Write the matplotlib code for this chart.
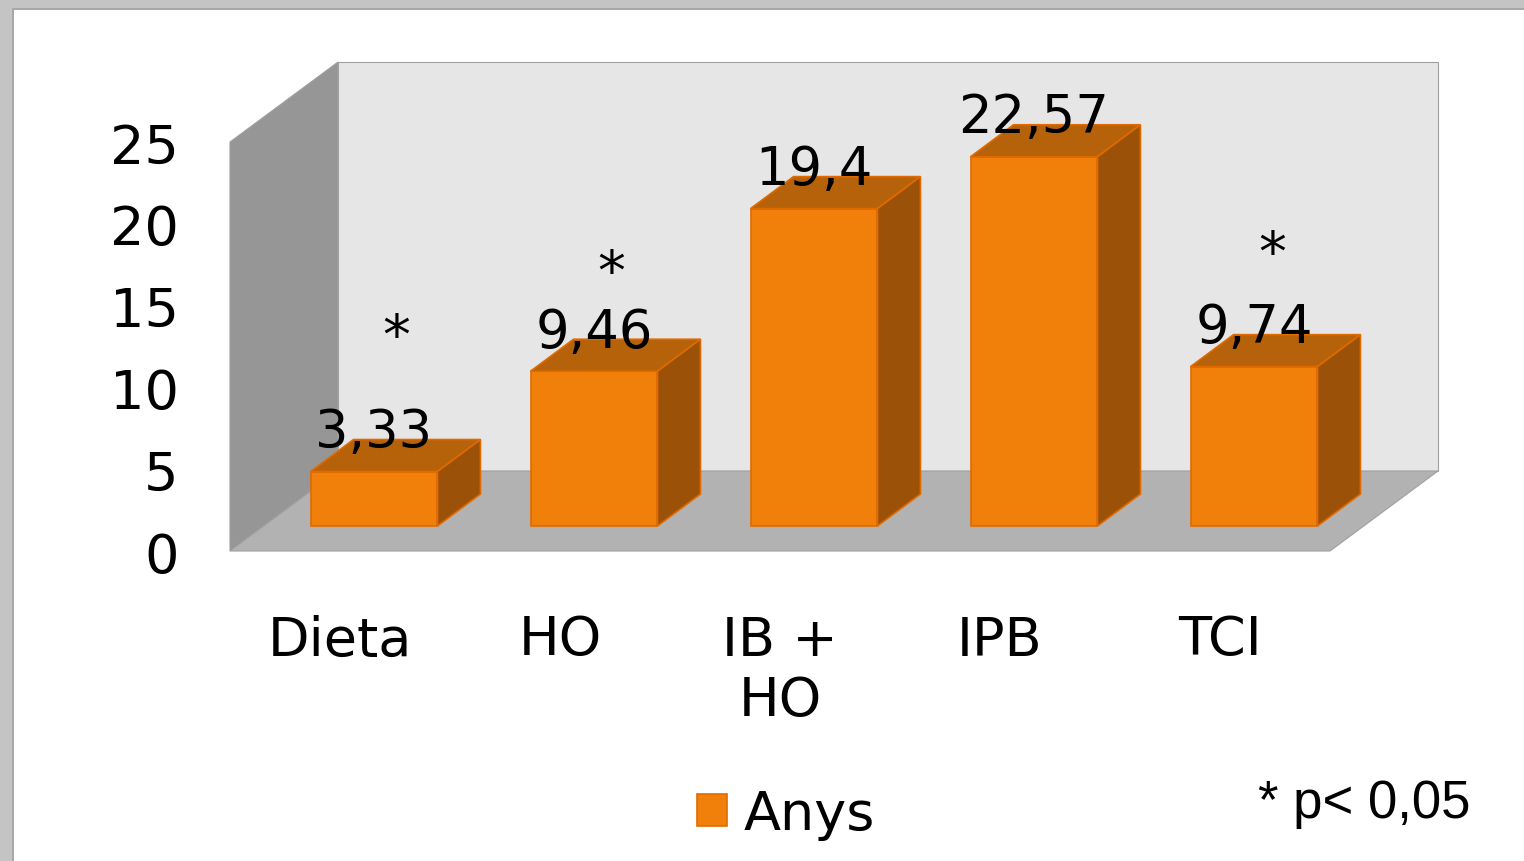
import matplotlib.pyplot as plt
import numpy as np
from matplotlib.patches import Polygon, Rectangle

categories = ['Dieta', 'HO', 'IB +\nHO', 'IPB', 'TCI']
values = [3.33, 9.46, 19.4, 22.57, 9.74]
significant = [True, True, False, False, True]
series_name = 'Anys'
note = '* p< 0,05'

front_col = '#F0800A'
top_col = '#B6620A'
side_col = '#9B5208'
edge_col = '#E06A00'

fig = plt.figure(figsize=(15.24, 8.62), dpi=100)
fig.patch.set_facecolor('white')

# window border (top and left)
fig.add_artist(Rectangle((0, 1 - 9 / 862), 1, 9 / 862, transform=fig.transFigure,
                         facecolor='#C4C4C4', edgecolor='none'))
fig.add_artist(Rectangle((0, 0), 12 / 1524, 1, transform=fig.transFigure,
                         facecolor='#C4C4C4', edgecolor='none'))
fig.add_artist(Rectangle((12 / 1524, 0), 1.5 / 1524, 1 - 9 / 862, transform=fig.transFigure,
                         facecolor='#A8A8A8', edgecolor='none'))
fig.add_artist(Rectangle((12 / 1524, 1 - 10.5 / 862), 1, 1.5 / 862, transform=fig.transFigure,
                         facecolor='#A8A8A8', edgecolor='none'))

ax = fig.add_axes([230 / 1524, 1 - 552 / 862, 1100 / 1524, 409 / 862])
x = np.arange(len(categories))
ymax = 25
ax.set_xlim(-0.5, len(categories) - 0.5)
ax.set_ylim(0, ymax)
ax.set_frame_on(False)

# depth of the box (floor/walls) and of the bars, in data units
dx, dy = 108 / 220, 80 / 16.36
fx, fy = 34 / 220, 25 / 16.36
bdx, bdy = 43 / 220, 32 / 16.36
w = 0.577

x0, x1 = -0.5, len(categories) - 0.5
walls = [
    ([(x0 + dx, dy), (x1 + dx, dy), (x1 + dx, ymax + dy), (x0 + dx, ymax + dy)], '#E6E6E6'),
    ([(x0, 0), (x0 + dx, dy), (x0 + dx, ymax + dy), (x0, ymax)], '#969696'),
    ([(x0, 0), (x1, 0), (x1 + dx, dy), (x0 + dx, dy)], '#B2B2B2'),
]
for pts, c in walls:
    ax.add_patch(Polygon(pts, closed=True, facecolor=c, edgecolor='#A0A0A0',
                         linewidth=0.8, clip_on=False, zorder=1))

bars = ax.bar(x + fx, values, width=w, bottom=fy, color=front_col, edgecolor=edge_col,
              linewidth=1.2, clip_on=False, zorder=3, label=series_name)

for xi, v in zip(x, values):
    l, r = xi + fx - w / 2, xi + fx + w / 2
    top = fy + v
    ax.add_patch(Polygon([(l, top), (r, top), (r + bdx, top + bdy), (l + bdx, top + bdy)],
                         closed=True, facecolor=top_col, edgecolor=edge_col, linewidth=1.2,
                         clip_on=False, zorder=3))
    ax.add_patch(Polygon([(r, fy), (r + bdx, fy + bdy), (r + bdx, top + bdy), (r, top)],
                         closed=True, facecolor=side_col, edgecolor=edge_col, linewidth=1.2,
                         clip_on=False, zorder=3))
    ax.text(xi + fx, top + 2.4, f'{v:g}'.replace('.', ','), ha='center', va='center',
            fontsize=38, zorder=5)

# asterisks for significant groups
star_pos = {0: (0.255, 12.1), 1: (1.232, 16.0), 4: (4.236, 17.2)}
for i, s in enumerate(significant):
    if s:
        sx, sy = star_pos[i]
        ax.text(sx, sy, '*', ha='center', va='baseline', fontsize=40, zorder=5)

ax.set_xticks(x)
ax.set_xticklabels(categories, fontsize=39, linespacing=1.2)
ax.set_yticks(np.arange(0, ymax + 1, 5))
ax.tick_params(axis='both', length=0, labelsize=39)
ax.tick_params(axis='y', pad=37)
ax.tick_params(axis='x', pad=45)

fig.legend(handles=[bars], labels=[series_name], loc='center', bbox_to_anchor=(786 / 1524, 1 - 815 / 862),
           frameon=False, fontsize=39, handlelength=0.55, handleheight=0.55, handletextpad=0.3)

fig.text(1470 / 1524, 1 - 818 / 862, note, ha='right', va='baseline', fontsize=38,
         family='Liberation Sans')

fig.savefig('out.png', dpi=100)
